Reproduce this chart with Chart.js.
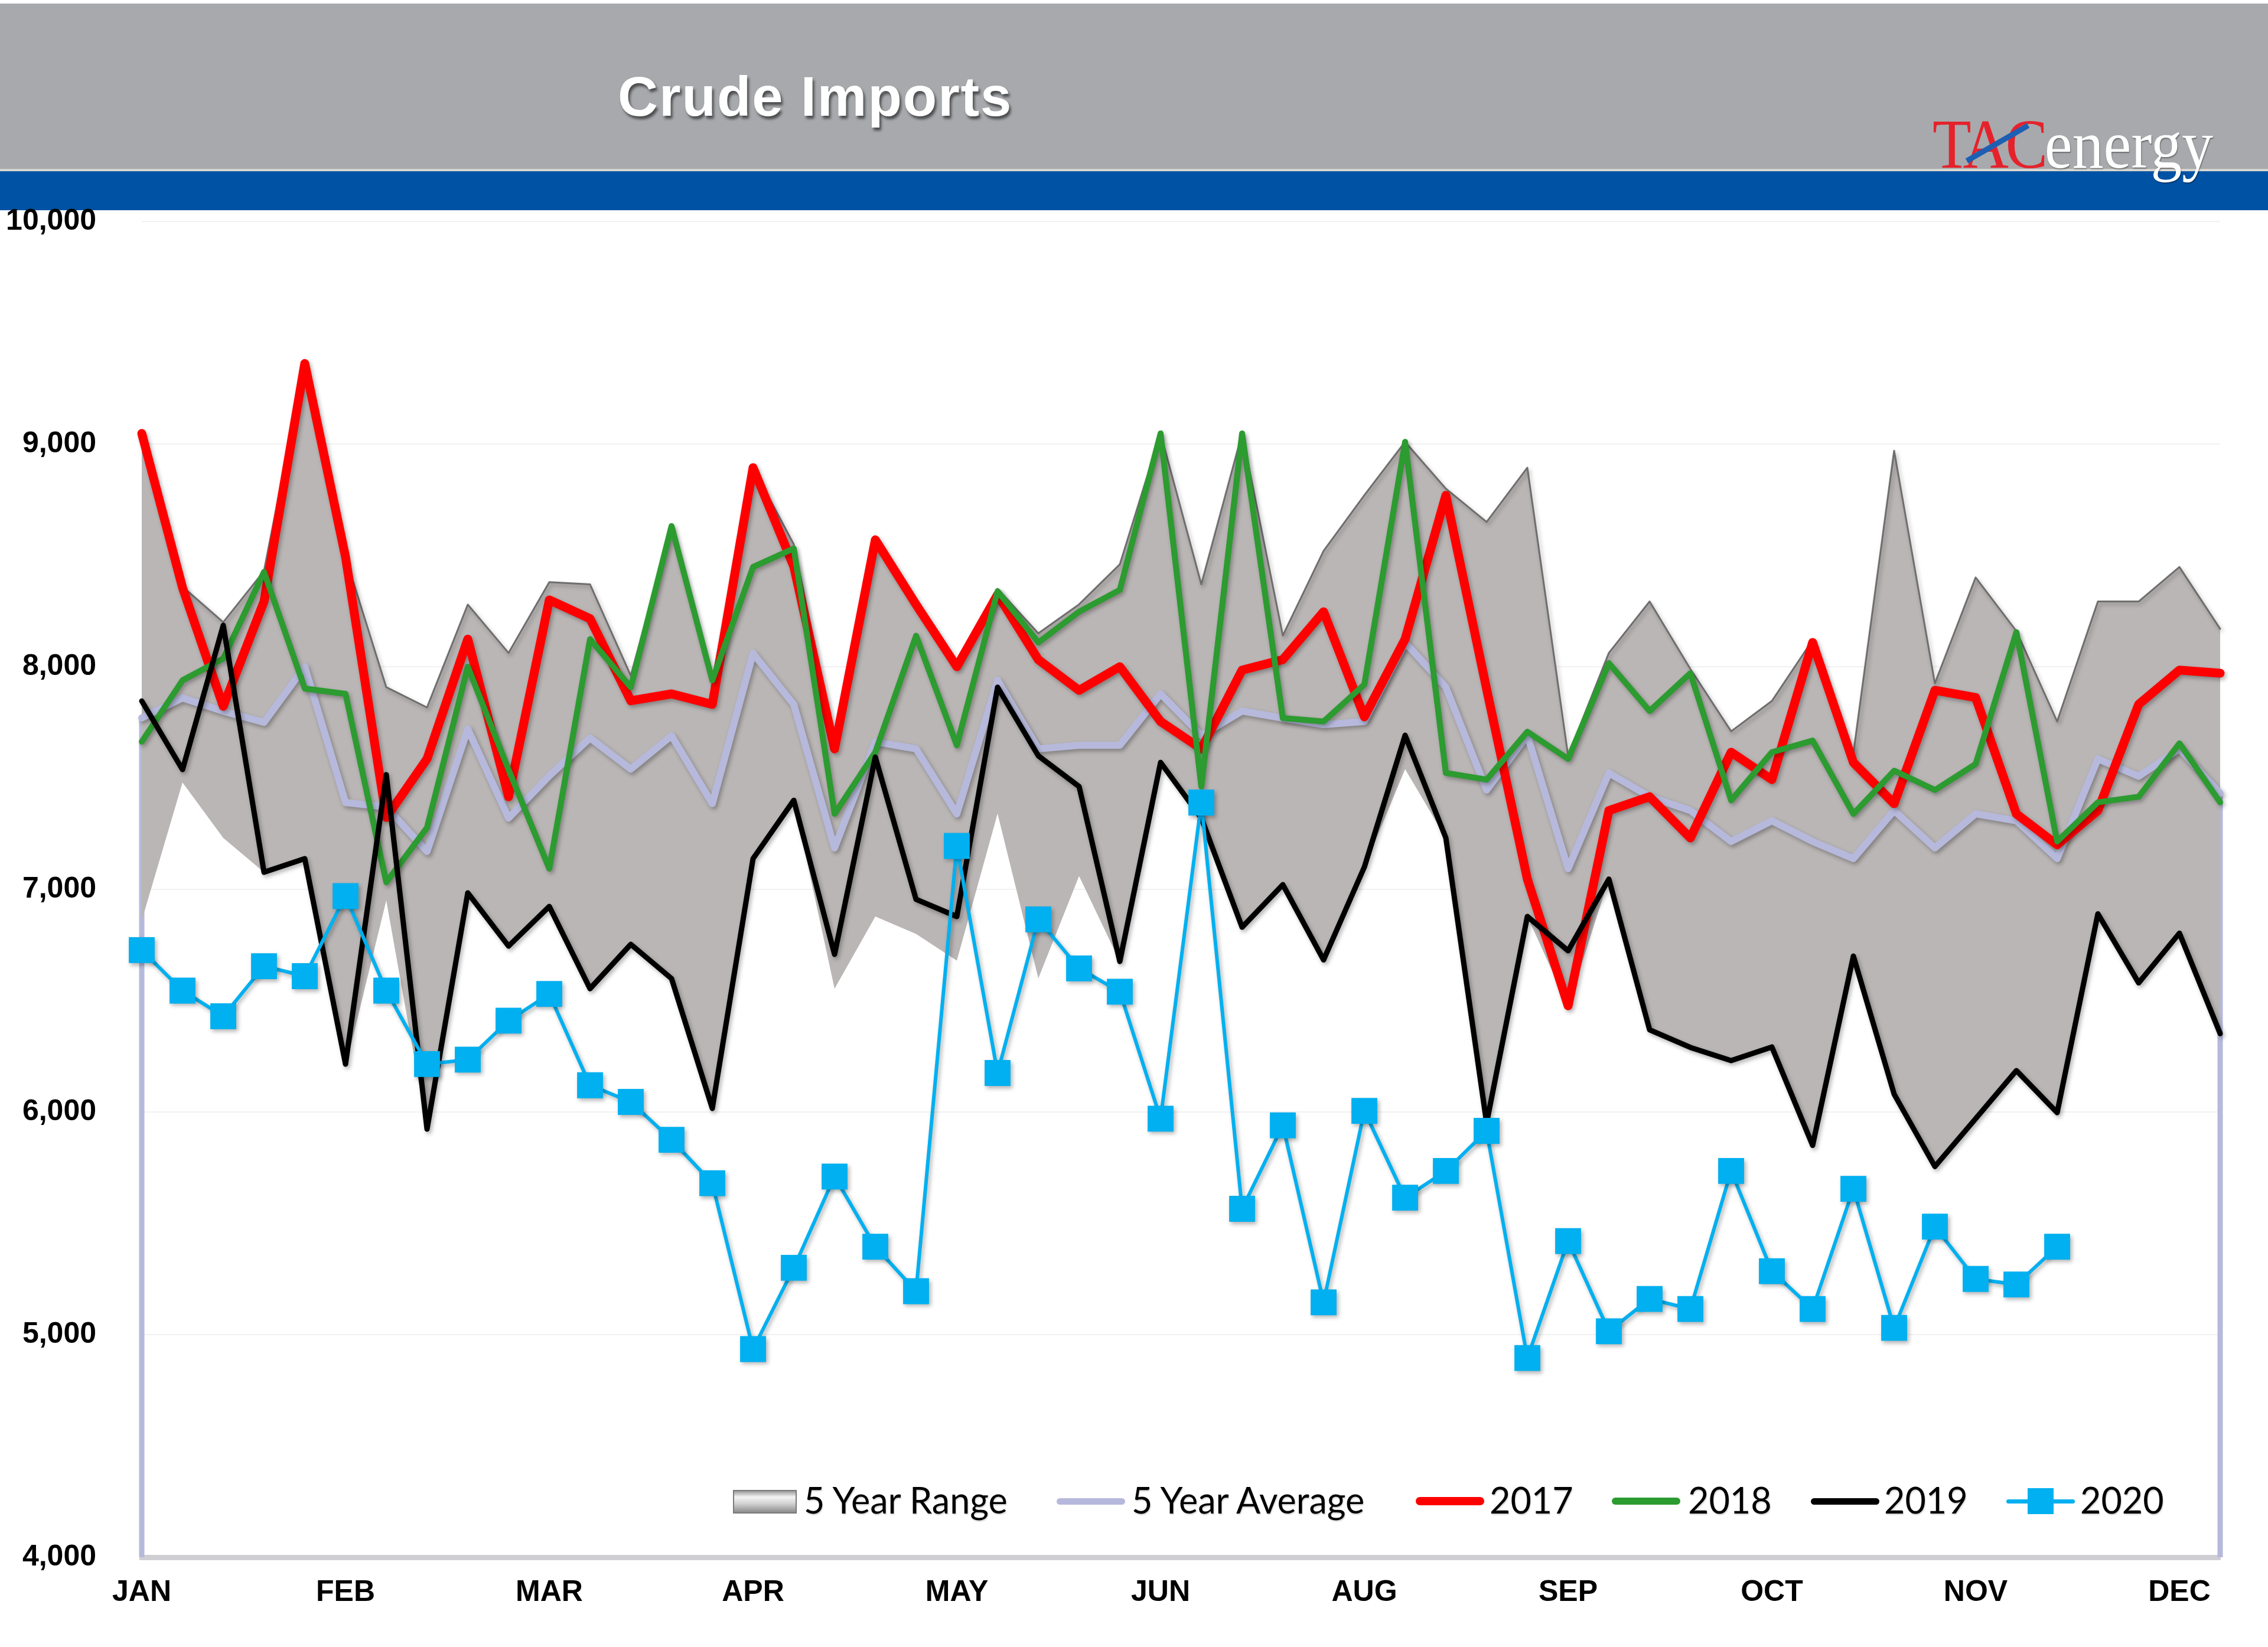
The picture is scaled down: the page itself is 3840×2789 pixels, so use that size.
<!DOCTYPE html>
<html>
<head>
<meta charset="utf-8">
<script src="https://cdn.jsdelivr.net/npm/chart.js@4.4.1/dist/chart.umd.min.js"></script>
<style>
  html, body { margin:0; padding:0; background:#fff; }
  body { width:3840px; height:2789px; position:relative; overflow:hidden; font-family:"Liberation Sans", Arial, sans-serif; }
  #hdr { position:absolute; left:0; top:6px; width:3840px; height:282px; background:#a7a9ac; }
  #hdrline { position:absolute; left:0; top:286px; width:3840px; height:4px; background:#d9d6cf; }
  #band { position:absolute; left:0; top:290px; width:3840px; height:66px; background:#0053a4; }
  #title { position:absolute; left:1046px; top:117px; font:bold 94px/94px "Liberation Sans", Arial, sans-serif; letter-spacing:2px; color:#fff; text-shadow:3px 5px 4px rgba(0,0,0,0.55); white-space:nowrap; z-index:3; }
  #logo { position:absolute; left:3272px; top:186px; z-index:3; white-space:nowrap; font-family:"Liberation Serif", "Times New Roman", serif; transform-origin:0 0; transform:scaleX(0.91); }
  #logo .tac { color:#e5222b; font-size:118px; line-height:118px; letter-spacing:-6px; }
  #logo .en { color:#fff; font-size:116px; line-height:118px; text-shadow:1px 2px 2px rgba(0,0,0,0.35); }
  #slash { position:absolute; left:3330px; top:268px; width:120px; height:9px; background:#1c5fb3; transform:rotate(-30deg); transform-origin:0 50%; z-index:4; }
  #wrap { position:absolute; left:0; top:0; width:3840px; height:2789px; z-index:1; }
  .lg { position:absolute; z-index:5; }
  .lgt { position:absolute; top:2508px; font:61px/64px Lato, "Open Sans", sans-serif; color:#000; white-space:nowrap; text-shadow:1px 2px 2px rgba(0,0,0,0.18); }
</style>
</head>
<body>
<div id="hdr"></div>
<div id="hdrline"></div>
<div id="band"></div>
<div id="title">Crude Imports</div>
<div id="logo"><span class="tac">TAC</span><span class="en">energy</span></div>
<div id="slash"></div>
<div id="wrap"><canvas id="c" width="3840" height="2789"></canvas></div>
<div id="legend"></div>
<script>
// ---------- DATA ----------
const monthTicks = ['JAN','FEB','MAR','APR','MAY','JUN','AUG','SEP','OCT','NOV','DEC'];
const weeksPerTick = 5;
const weekCount = 52;

const rangeMin = [6860, 7480, 7231, 7077, 7130, 6200, 6950, 5923, 6984, 6745,
                  6923, 6554, 6753, 6599, 6016, 7138, 7400, 6554, 6878, 6800,
                  6680, 7340, 6600, 7060, 6676, 7570, 7320, 6830, 7021, 6683,
                  7100, 7540, 7231, 5950, 6878, 6477, 7046, 6369, 6290, 6231,
                  6292, 5850, 6700, 6080, 5755, 5970, 6186, 5997, 6890, 6580,
                  6803, 6352];
const rangeMax = [9050, 8360, 8200, 8430, 9362, 8493, 7908, 7817, 8279, 8062,
                  8380, 8370, 7960, 8632, 7940, 8894, 8550, 7660, 8575, 8280,
                  8000, 8350, 8150, 8280, 8460, 9048, 8370, 9048, 8140, 8520,
                  8770, 9010, 8800, 8650, 8894, 7600, 8062, 8293, 7990, 7710,
                  7846, 8120, 7610, 8970, 7925, 8401, 8160, 7754, 8293, 8293,
                  8448, 8170];
const avg5 = [7770, 7860, 7800, 7750, 8000, 7390, 7370, 7170, 7720, 7320,
              7510, 7680, 7540, 7690, 7385, 8060, 7830, 7186, 7663, 7631,
              7339, 7939, 7631, 7647, 7647, 7878, 7692, 7801, 7769, 7740,
              7754, 8109, 7908, 7446, 7692, 7093, 7523, 7416, 7354, 7215,
              7308, 7215, 7138, 7354, 7186, 7339, 7308, 7138, 7586, 7508,
              7631, 7431];
const y2017 = [9048, 8355, 7822, 8293, 9362, 8493, 7323, 7586, 8124, 7416,
               8300, 8216, 7847, 7878, 7831, 8894, 8450, 7631, 8570, 8279,
               8000, 8324, 8032, 7894, 8000, 7754, 7631, 7985, 8032, 8247,
               7775, 8124, 8770, 7900, 7046, 6477, 7354, 7416, 7231, 7616,
               7493, 8109, 7570, 7385, 7894, 7862, 7339, 7200, 7354, 7831,
               7985, 7971];
const y2018 = [7663, 7939, 8037, 8426, 7902, 7878, 7032, 7277, 8000, 7538,
               7093, 8124, 7908, 8632, 7939, 8448, 8531, 7339, 7616, 8139,
               7647, 8339, 8109, 8247, 8345, 9048, 7462, 9048, 7769, 7754,
               7920, 9010, 7523, 7493, 7708, 7586, 8016, 7801, 7971, 7400,
               7616, 7668, 7339, 7533, 7446, 7563, 8155, 7215, 7391, 7416,
               7656, 7391];
const y2019 = [7846, 7538, 8186, 7077, 7138, 6215, 7515, 5923, 6984, 6745,
               6923, 6554, 6753, 6599, 6016, 7138, 7400, 6708, 7594, 6955,
               6878, 7908, 7600, 7462, 6676, 7570, 7320, 6830, 7021, 6683,
               7100, 7692, 7231, 5950, 6878, 6724, 7046, 6369, 6290, 6231,
               6292, 5850, 6700, 6080, 5755, 5970, 6186, 5997, 6890, 6580,
               6803, 6352];
const y2020 = [6727, 6545, 6430, 6655, 6610, 6970, 6545, 6215, 6235, 6410,
               6530, 6120, 6045, 5875, 5680, 4935, 5300, 5710, 5395, 5195,
               7195, 6175, 6865, 6645, 6540, 5970, 7390, 5565, 5940, 5145,
               6005, 5615, 5735, 5915, 4895, 5420, 5015, 5160, 5115, 5735,
               5285, 5115, 5655, 5030, 5485, 5250, 5225, 5395];
const yTicks = [4000, 5000, 6000, 7000, 8000, 9000, 10000];
const seriesNames = ['5 Year Range', '5 Year Average', '2017', '2018', '2019', '2020'];

// ---------- CHART ----------
const weekLabels = Array.from({length: weekCount}, (_, i) =>
  (i % weeksPerTick === 0 && monthTicks[i / weeksPerTick]) ? monthTicks[i / weeksPerTick] : '');

const COL = { range:'#bab6b5', rangeEdge:'#6f6d6d', avg:'#b6b9db', r17:'#ff0000', g18:'#2c9b30', b19:'#000000', c20:'#00b0f0' };
const AVG_INDEX = 4;

const shadowPlugin = {
  id: 'softShadow',
  beforeDatasetDraw(chart, args) {
    const c = chart.ctx; c.save();
    c.shadowColor = 'rgba(0,0,0,0.30)'; c.shadowBlur = 7; c.shadowOffsetX = 3; c.shadowOffsetY = 4;
  },
  afterDatasetDraw(chart) { chart.ctx.restore(); }
};
const edgePlugin = {
  id: 'avgEdges',
  beforeDatasetsDraw(chart) {
    const meta = chart.getDatasetMeta(AVG_INDEX);
    if (!meta || !meta.data.length) return;
    const c = chart.ctx, yb = chart.scales.y.getPixelForValue(chart.scales.y.min);
    const p0 = meta.data[0], p1 = meta.data[meta.data.length - 1];
    c.save();
    c.strokeStyle = COL.avg; c.lineWidth = 9;
    c.beginPath(); c.moveTo(p0.x, yb); c.lineTo(p0.x, p0.y); c.stroke();
    c.beginPath(); c.moveTo(p1.x, yb); c.lineTo(p1.x, p1.y); c.stroke();
    c.restore();
  }
};

const tickFont = { family: '"Liberation Sans", Arial, sans-serif', weight: 'bold', size: 50 };

new Chart(document.getElementById('c'), {
  type: 'line',
  data: {
    labels: weekLabels,
    datasets: [
      { label: seriesNames[5], data: y2020, borderColor: COL.c20, backgroundColor: COL.c20, borderWidth: 6,
        pointStyle: 'rect', pointRadius: 31, pointBorderWidth: 0, order: 1, clip: false },
      { label: seriesNames[4], data: y2019, borderColor: COL.b19, borderWidth: 9, pointRadius: 0, order: 2, clip: false },
      { label: seriesNames[3], data: y2018, borderColor: COL.g18, borderWidth: 10, pointRadius: 0, order: 3, clip: false },
      { label: seriesNames[2], data: y2017, borderColor: COL.r17, borderWidth: 15, pointRadius: 0, order: 4, clip: false },
      { label: seriesNames[1], data: avg5, borderColor: COL.avg, borderWidth: 12, pointRadius: 0, order: 5, clip: false },
      { label: 'min', data: rangeMin, borderWidth: 0, borderColor: 'rgba(0,0,0,0)', pointRadius: 0, fill: false, order: 7, clip: false },
      { label: seriesNames[0], data: rangeMax, borderColor: COL.rangeEdge, borderWidth: 3, backgroundColor: COL.range,
        pointRadius: 0, fill: '-1', order: 6, clip: false }
    ]
  },
  options: {
    responsive: false,
    animation: false,
    devicePixelRatio: 1,
    layout: { padding: { top: 375, right: 81, bottom: 42, left: 0 } },
    elements: { line: { tension: 0, borderJoinStyle: 'round', borderCapStyle: 'round' } },
    plugins: { legend: { display: false }, tooltip: { enabled: false }, title: { display: false } },
    scales: {
      x: {
        type: 'category',
        offset: false,
        grid: { display: false, drawTicks: false },
        border: { display: true, color: '#cfcfd3', width: 9 },
        ticks: { autoSkip: false, maxRotation: 0, minRotation: 0, padding: 30, color: '#000', font: tickFont,
                 callback: (v, i) => weekLabels[i] },
        afterFit: (s) => { s.height = 110; }
      },
      y: {
        min: yTicks[0], max: yTicks[yTicks.length - 1],
        afterBuildTicks: (s) => { s.ticks = yTicks.map(v => ({ value: v })); },
        grid: { color: '#f1f1f1', lineWidth: 2, drawTicks: false },
        border: { display: false },
        ticks: { padding: 77, color: '#000', font: tickFont, callback: (v) => Number(v).toLocaleString('en-US') },
        afterFit: (s) => { s.width = 240; }
      }
    }
  },
  plugins: [edgePlugin, shadowPlugin]
});

// ---------- LEGEND (HTML) ----------
const legendSpec = [
  { name: seriesNames[0], kind: 'box', ix: 1241, tx: 1361 },
  { name: seriesNames[1], kind: 'line', color: COL.avg, w: 11, ix: 1789, tx: 1916 },
  { name: seriesNames[2], kind: 'line', color: COL.r17, w: 14, ix: 2397, tx: 2522 },
  { name: seriesNames[3], kind: 'line', color: COL.g18, w: 12, ix: 2729, tx: 2858 },
  { name: seriesNames[4], kind: 'line', color: COL.b19, w: 11, ix: 3066, tx: 3190 },
  { name: seriesNames[5], kind: 'mark', color: COL.c20, w: 7, ix: 3397, tx: 3522 }
];
const lg = document.getElementById('legend');
legendSpec.forEach(s => {
  if (s.kind === 'box') {
    const b = document.createElement('div'); b.className = 'lg';
    Object.assign(b.style, { left: s.ix + 'px', top: '2523px', width: '104px', height: '36px',
      border: '2px solid #7a7a7a', background: 'linear-gradient(to bottom, #9a9a9a 0%, #f4f4f4 28%, #d0d0d0 60%, #8c8c8c 100%)' });
    lg.appendChild(b);
  } else {
    const l = document.createElement('div'); l.className = 'lg';
    Object.assign(l.style, { left: s.ix + 'px', top: (2542 - s.w / 2) + 'px', width: '116px', height: s.w + 'px',
      background: s.color, borderRadius: (s.w / 2) + 'px' });
    lg.appendChild(l);
    if (s.kind === 'mark') {
      const m = document.createElement('div'); m.className = 'lg';
      Object.assign(m.style, { left: (s.ix + 36) + 'px', top: '2520px', width: '44px', height: '44px', background: s.color });
      lg.appendChild(m);
    }
  }
  const t = document.createElement('div'); t.className = 'lgt'; t.style.left = s.tx + 'px'; t.textContent = s.name;
  lg.appendChild(t);
});
</script>
</body>
</html>
